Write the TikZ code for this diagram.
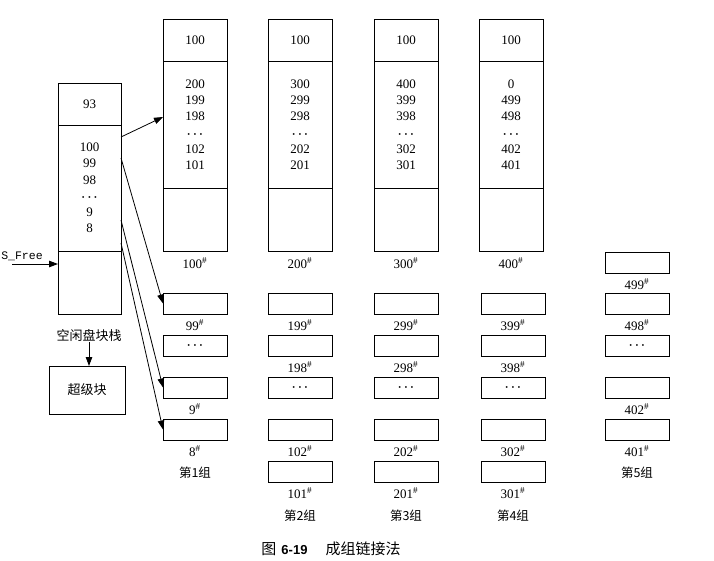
\documentclass[tikz,border=0pt]{standalone}
\usepackage{fontspec}
\setmainfont{Liberation Serif}
\newfontfamily\cjk{Noto Sans CJK SC}
\newfontfamily\monof{Liberation Mono}
\newfontfamily\sansf{Liberation Sans}
\usetikzlibrary{arrows.meta}
\newcommand\hsh{\textsuperscript{\#}}
\newcommand\vdts{{\boldmath$\cdots$}}
\tikzset{
  cell/.style={draw, line width=0.9pt, minimum width=64pt, minimum height=#1,
    inner sep=0pt, outer sep=0pt, anchor=north west, align=center,
    font=\fontsize{13}{16.2}\selectfont},
  sbox/.style={draw, line width=0.9pt, minimum width=64pt, minimum height=21pt,
    inner sep=0pt, outer sep=0pt, anchor=north west, font=\fontsize{13}{14}\selectfont},
  lbl/.style={inner sep=0pt, font=\fontsize{13}{14}\selectfont},
  clbl/.style={inner sep=0pt, font=\cjk\fontsize{12.5}{14}\selectfont},
  arr/.style={-{Triangle[length=9pt,width=6.5pt]}, line width=0.8pt}
}
\newcommand\blk[4]{%
  \node[sbox] (#1) at (#2,#3) {};
  \node[lbl] (#1l) at (#2+32,#3+32) {#4\hsh};
}
\newcommand\dotblk[3]{\node[sbox] (#1) at (#2,#3) {\vdts};}
\begin{document}
\begin{tikzpicture}[x=1pt,y=-1pt]
\useasboundingbox (0,0) rectangle (714,560);

% free block stack
\node[cell=42pt, minimum width=63pt] (stop) at (58,83) {93};
\node[cell=126pt, minimum width=63pt] (smid) at (58,125) {100\\99\\98\\\vdts\\9\\8};
\node[cell=63pt, minimum width=63pt] (sbot) at (58,251) {};

% big columns
\foreach \i/\x/\nA/\nB/\nC/\nD/\nE/\lab in {1/163/200/199/198/102/101/100, 2/268/300/299/298/202/201/200, 3/374/400/399/398/302/301/300, 4/479/0/499/498/402/401/400}{
  \node[cell=42pt] (t\i) at (\x,19.5) {100};
  \node[cell=126.5pt] (m\i) at (\x,61.5) {\nA\\\nB\\\nC\\\vdts\\\nD\\\nE};
  \node[cell=63pt] (b\i) at (\x,188) {};
  \node[lbl] (l\i) at (\x+32,263) {\lab\hsh};
}

% group 1
\blk{ga1}{163}{293}{99}
\dotblk{ga2}{163}{335}
\blk{ga3}{163}{377}{9}
\blk{ga4}{163}{419}{8}
\node[clbl] (g1) at (195,473) {第1组};

% group 2
\blk{gb1}{268}{293}{199}
\blk{gb2}{268}{335}{198}
\dotblk{gb3}{268}{377}
\blk{gb4}{268}{419}{102}
\blk{gb5}{268}{461}{101}
\node[clbl] (g2) at (300,516) {第2组};

% group 3
\blk{gc1}{374}{293}{299}
\blk{gc2}{374}{335}{298}
\dotblk{gc3}{374}{377}
\blk{gc4}{374}{419}{202}
\blk{gc5}{374}{461}{201}
\node[clbl] (g3) at (406,516) {第3组};

% group 4
\blk{gd1}{481}{293}{399}
\blk{gd2}{481}{335}{398}
\dotblk{gd3}{481}{377}
\blk{gd4}{481}{419}{302}
\blk{gd5}{481}{461}{301}
\node[clbl] (g4) at (513,516) {第4组};

% group 5
\blk{ge0}{605}{252}{499}
\blk{ge1}{605}{293}{498}
\dotblk{ge2}{605}{335}
\blk{ge3}{605}{377}{402}
\blk{ge4}{605}{419}{401}
\node[clbl] (g5) at (637,473) {第5组};

% arrows from stack
\draw[arr] ([yshift=-12pt]smid.north east) -- ([yshift=-55.5pt]m1.north west);
\draw[arr] ([yshift=-33pt]smid.north east) -- (ga1.west);
\draw[arr] ([yshift=-95pt]smid.north east) -- (ga3.west);
\draw[arr] ([yshift=-118pt]smid.north east) -- (ga4.west);

% S_Free
\node[inner sep=0pt, font=\monof\fontsize{11.5}{12}\selectfont] (sf) at (22,256) {S\_Free};
\coordinate (sfs) at (12,264);
\draw[arr, line width=0.9pt] (sfs) -- (sfs -| sbot.west);

% stack label and superblock
\node[clbl, font=\cjk\fontsize{13}{14}\selectfont] (stk) at (89,336) {空闲盘块栈};
\node[draw, line width=0.9pt, minimum width=76pt, minimum height=48pt, inner sep=0pt,
  outer sep=0pt, anchor=north west, font=\cjk\fontsize{13}{14}\selectfont] (sup) at (49,366) {超级块};
\draw[arr] (stk.south) -- (stk.south |- sup.north);

% caption
\node[inner sep=0pt] (cap) at (331,549) {{\cjk\fontsize{15}{16}\selectfont 图}\hspace{5pt}{\sansf\bfseries\fontsize{13}{16}\selectfont 6-19}\hspace{18pt}{\cjk\fontsize{15}{16}\selectfont 成组链接法}};
\end{tikzpicture}
\end{document}
